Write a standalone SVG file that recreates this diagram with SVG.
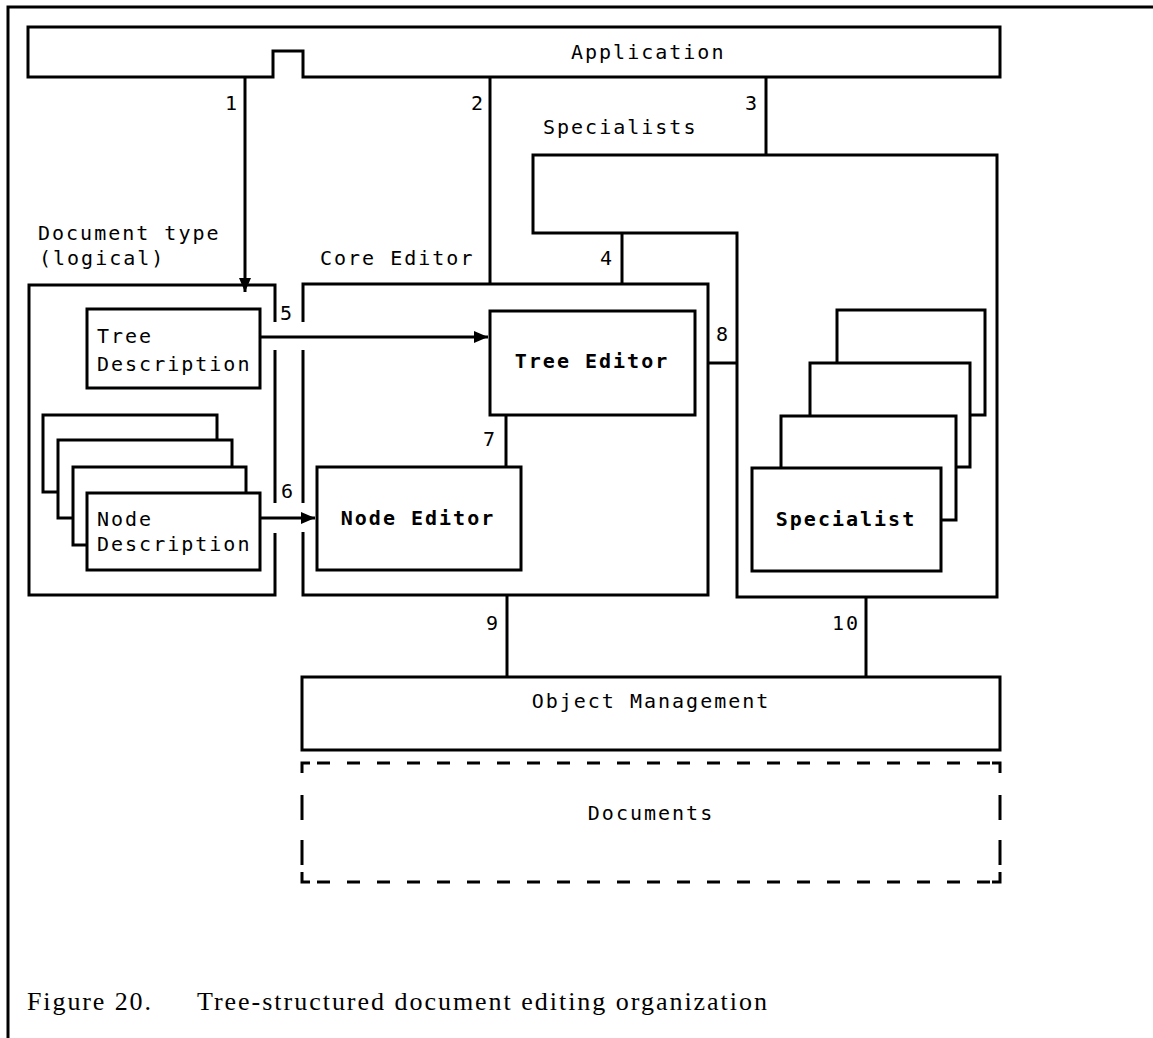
<svg xmlns="http://www.w3.org/2000/svg" width="1153" height="1038" viewBox="0 0 1153 1038">
<style>
.box{fill:none;stroke:#000;stroke-width:3}
.wbox{fill:#fff;stroke:#000;stroke-width:3}
.ln{fill:none;stroke:#000;stroke-width:3}
.t{font-family:"DejaVu Sans Mono","Liberation Mono",monospace;font-size:20px;letter-spacing:2px;fill:#000}
.b{font-weight:bold}
.m{text-anchor:middle}
.cap{font-family:"Liberation Serif","Times New Roman",serif;font-size:26px;fill:#000}
.dash{fill:none;stroke:#000;stroke-width:3;stroke-dasharray:13 17}
</style>
<defs>
<marker id="ah" viewBox="0 0 14 12" refX="14" refY="6" markerWidth="14" markerHeight="12" markerUnits="userSpaceOnUse" orient="auto">
<path d="M0,0 L14,6 L0,12 Z" fill="#000"/>
</marker>
</defs>
<rect width="1153" height="1038" fill="#fff"/>
<g id="frame">
<path class="ln" d="M8,1038 V7 H1153"/>
</g>
<g id="application">
<path class="box" d="M28,27 H1000 V77 H303 V51 H273 V77 H28 Z"/>
<text class="t" x="571" y="59">Application</text>
</g>
<g id="specialists">
<path class="box" d="M533,155 H997 V597 H737 V233 H533 Z"/>
<text class="t" x="543" y="134">Specialists</text>
</g>
<g id="doctype">
<path class="box" d="M275,322 V285 H29 V595 H275 V533 M275,503 V350"/>
<text class="t" x="38" y="240">Document type</text>
<text class="t" x="39" y="265">(logical)</text>
</g>
<g id="core-editor">
<path class="box" d="M303,322 V284 H708 V595 H303 V532 M303,503 V350"/>
<text class="t" x="320" y="265">Core Editor</text>
</g>
<g id="tree-description">
<rect class="wbox" x="87" y="309" width="173" height="79"/>
<text class="t" x="97" y="343">Tree</text>
<text class="t" x="97" y="371">Description</text>
</g>
<g id="node-description">
<rect class="wbox" x="43" y="415" width="174" height="77"/>
<rect class="wbox" x="58" y="440" width="174" height="78"/>
<rect class="wbox" x="73" y="467" width="173" height="78"/>
<rect class="wbox" x="87" y="493" width="173" height="77"/>
<text class="t" x="97" y="526">Node</text>
<text class="t" x="97" y="551">Description</text>
</g>
<g id="tree-editor">
<rect class="wbox" x="490" y="311" width="205" height="104"/>
<text class="t b m" x="592" y="368">Tree Editor</text>
</g>
<g id="node-editor">
<rect class="wbox" x="317" y="467" width="204" height="103"/>
<text class="t b m" x="418" y="525">Node Editor</text>
</g>
<g id="specialist">
<rect class="wbox" x="837" y="310" width="148" height="105"/>
<rect class="wbox" x="810" y="363" width="160" height="104"/>
<rect class="wbox" x="781" y="416" width="175" height="104"/>
<rect class="wbox" x="752" y="468" width="189" height="103"/>
<text class="t b m" x="846" y="526">Specialist</text>
</g>
<g id="object-management">
<rect class="box" x="302" y="677" width="698" height="73"/>
<text class="t m" x="651" y="708">Object Management</text>
</g>
<g id="documents">
<path class="dash" d="M317,763 H990"/>
<path class="dash" d="M317,882 H990"/>
<path class="ln" d="M302,773 V763 H310 M1000,773 V763 H992 M302,872 V882 H310 M1000,872 V882 H992"/>
<path class="ln" d="M302,795 V820 M302,840 V865 M1000,795 V820 M1000,840 V865"/>
<text class="t m" x="651" y="820">Documents</text>
</g>
<g id="connectors">
<path class="ln" d="M245,77 V292" marker-end="url(#ah)"/>
<path class="ln" d="M490,77 V284"/>
<path class="ln" d="M766,77 V155"/>
<path class="ln" d="M622,233 V284"/>
<path class="ln" d="M260,337 H488" marker-end="url(#ah)"/>
<path class="ln" d="M260,518 H315" marker-end="url(#ah)"/>
<path class="ln" d="M506,415 V467"/>
<path class="ln" d="M708,363 H737"/>
<path class="ln" d="M507,595 V677"/>
<path class="ln" d="M866,597 V677"/>
<text class="t m" x="232" y="110">1</text>
<text class="t m" x="478" y="110">2</text>
<text class="t m" x="752" y="110">3</text>
<text class="t m" x="607" y="265">4</text>
<text class="t m" x="287" y="320">5</text>
<text class="t m" x="288" y="498">6</text>
<text class="t m" x="490" y="446">7</text>
<text class="t m" x="723" y="341">8</text>
<text class="t m" x="493" y="630">9</text>
<text class="t m" x="846" y="630">10</text>
</g>
<g id="caption">
<text class="cap" x="27" y="1010" textLength="124">Figure 20.</text>
<text class="cap" x="197" y="1010" textLength="570">Tree-structured document editing organization</text>
</g>
</svg>
